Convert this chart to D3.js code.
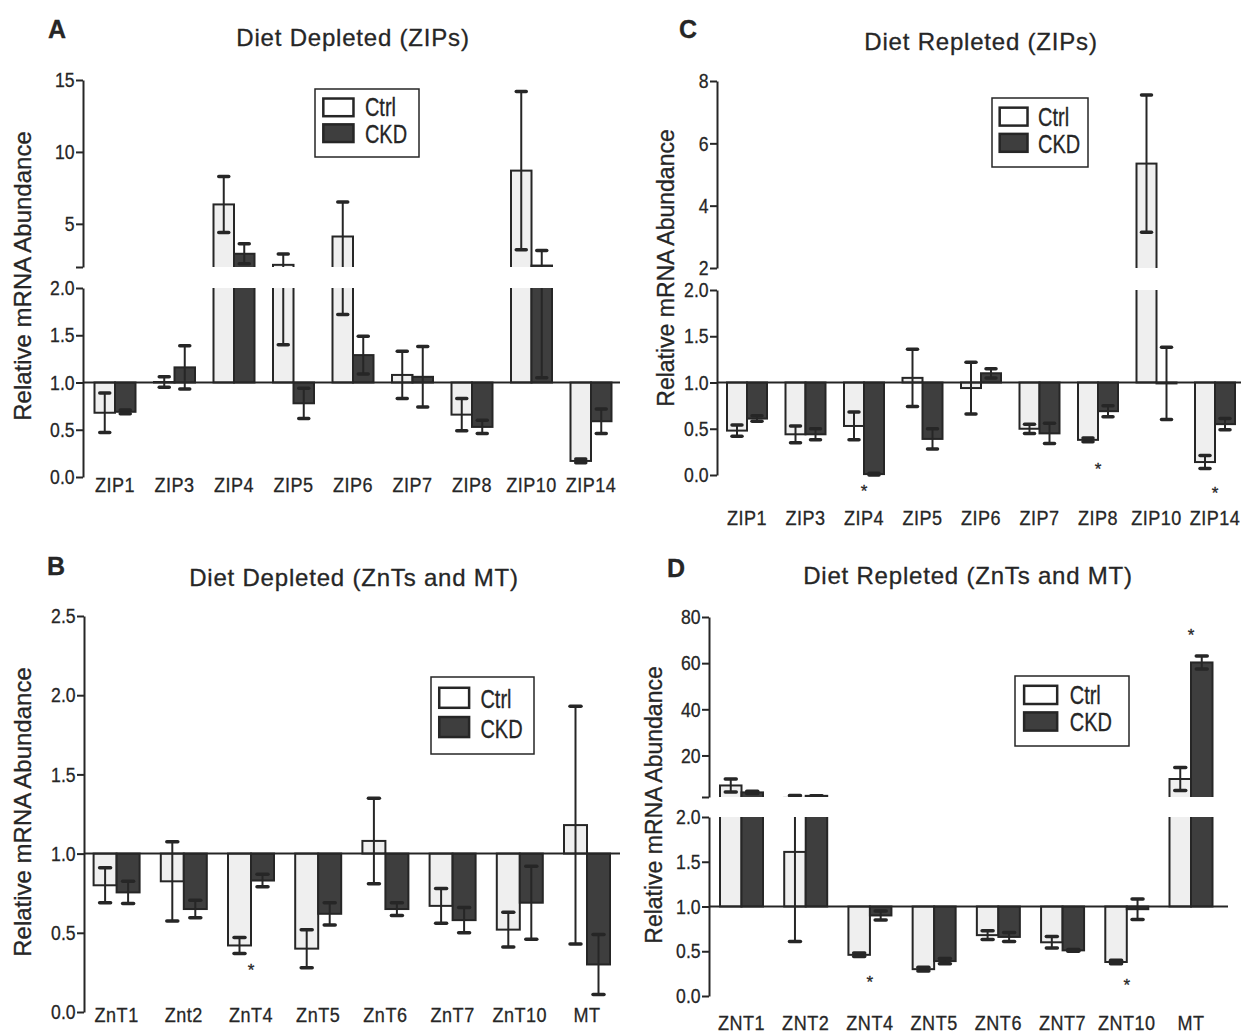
<!DOCTYPE html>
<html>
<head>
<meta charset="utf-8">
<script src="https://cdn.jsdelivr.net/npm/d3@7"></script>
<style>
body { margin: 0; background: #fff; }
svg text { font-family: "Liberation Sans", Arial, sans-serif; stroke: #262626; stroke-width: 0.3px; }
</style>
</head>
<body>
<div id="chart"></div>
<script>
// ---- data ----
const series = ["Ctrl", "CKD"];

// A : diet depleted, ZIPs
const zipCats = ["ZIP1", "ZIP3", "ZIP4", "ZIP5", "ZIP6", "ZIP7", "ZIP8", "ZIP10", "ZIP14"];
const aCtrl    = [0.68, 1.005, 6.35, 2.15, 4.12, 1.08, 0.66, 8.7, 0.17];
const aCtrlErr = [0.21, 0.055, 1.95, 0.75, 2.40, 0.25, 0.17, 5.5, 0.02];
const aCkd     = [0.69, 1.16, 2.92, 0.78, 1.29, 1.06, 0.53, 2.1, 0.59];
const aCkdErr  = [0.02, 0.23, 0.70, 0.16, 0.20, 0.32, 0.07, 1.05, 0.13];
const aStarCats = [];
const aStarVals = [];

// C : diet repleted, ZIPs
const cCtrl    = [0.48, 0.44, 0.53, 1.05, 0.94, 0.50, 0.38, 5.35, 0.14];
const cCtrlErr = [0.06, 0.09, 0.15, 0.31, 0.28, 0.05, 0.02, 2.2, 0.07];
const cCkd     = [0.61, 0.44, 0.01, 0.39, 1.10, 0.45, 0.69, 0.99, 0.55];
const cCkdErr  = [0.03, 0.06, 0.01, 0.11, 0.05, 0.11, 0.06, 0.39, 0.06];
const cStarCats = ["ZIP4", "ZIP8", "ZIP14"];
const cStarVals = [-0.15, 0.085, -0.17];

// B : diet depleted, ZnTs and MT
const bCats = ["ZnT1", "Znt2", "ZnT4", "ZnT5", "ZnT6", "ZnT7", "ZnT10", "MT"];
const bCtrl    = [0.80, 0.825, 0.42, 0.40, 1.08, 0.67, 0.52, 1.18];
const bCtrlErr = [0.11, 0.25, 0.05, 0.12, 0.27, 0.11, 0.11, 0.75];
const bCkd     = [0.755, 0.65, 0.83, 0.62, 0.65, 0.58, 0.69, 0.30];
const bCkdErr  = [0.07, 0.055, 0.04, 0.07, 0.04, 0.08, 0.23, 0.19];
const bStarCats = ["ZnT4"];
const bStarVals = [0.28];

// D : diet repleted, ZnTs and MT
const dCats = ["ZNT1", "ZNT2", "ZNT4", "ZNT5", "ZNT6", "ZNT7", "ZNT10", "MT"];
const dCtrl    = [7.0, 1.61, 0.46, 0.30, 0.68, 0.60, 0.38, 9.8];
const dCtrlErr = [2.8, 1.0, 0.02, 0.02, 0.05, 0.065, 0.02, 5.0];
const dCkd     = [4.0, 2.5, 0.90, 0.39, 0.66, 0.51, 0.97, 60.3];
const dCkdErr  = [0.5, 0.05, 0.05, 0.03, 0.05, 0.01, 0.115, 2.8];
const dStarCats = ["ZNT4", "ZNT10", "MT"];
const dStarVals = [0.18, 0.145, 73];

// tick labels
const lowerTicks = [0, 0.5, 1, 1.5, 2];
const aUpperTicks = [2, 5, 10, 15];
const cUpperTicks = [2, 4, 6, 8];
const bTicks = [0, 0.5, 1, 1.5, 2, 2.5];
const dUpperTicks = [2, 20, 40, 60, 80];

// ---- drawing ----
const W = 1241, H = 1034;
const ink = "#262626";
const color = d3.scaleOrdinal().domain(series).range(["#efefef", "#3e3e3e"]);

const svg = d3.select("#chart")
  .append("svg")
  .attr("width", W)
  .attr("height", H);
svg.append("rect").attr("width", W).attr("height", H).attr("fill", "#fff");
const defs = svg.append("defs");

const fmtLow = d3.format(".1f");

function drawPanel(p) {
  const g = svg.append("g");

  // group centres and the two bars of a group
  const x = d3.scalePoint().domain(p.cats).range(p.centers);
  const xSub = d3.scaleBand().domain(series).range([-p.bw, p.bw]);

  const rows = p.cats.flatMap((c, i) => [
    {cat: c, key: "Ctrl", v: p.ctrl[i], e: p.ctrlErr[i]},
    {cat: c, key: "CKD", v: p.ckd[i], e: p.ckdErr[i]}
  ]);

  const broken = p.segs.length > 1;
  p.segs.forEach((s, si) => {
    const y = d3.scaleLinear().domain(s.domain).range(s.range);
    s.y = y;

    // each piece of a broken axis only shows its own range
    const top = (si == 0 && broken) ? s.range[1] : s.range[1] - 30;
    const bottom = si == 0 ? s.range[0] + 40 : s.range[0];
    const clipId = "clip-" + p.id + "-" + si;
    defs.append("clipPath").attr("id", clipId)
      .append("rect")
      .attr("x", p.axisX).attr("y", top)
      .attr("width", p.xEnd - p.axisX).attr("height", bottom - top);

    const layer = g.append("g").attr("clip-path", `url(#${clipId})`);

    layer.selectAll("rect")
      .data(rows)
      .join("rect")
      .attr("x", d => x(d.cat) + xSub(d.key))
      .attr("y", d => Math.min(y(1), y(d.v)))
      .attr("width", xSub.bandwidth())
      .attr("height", d => Math.abs(y(1) - y(d.v)))
      .attr("fill", d => color(d.key))
      .attr("stroke", ink)
      .attr("stroke-width", 2);

    const eb = layer.selectAll("g.err")
      .data(rows)
      .join("g")
      .attr("class", "err")
      .attr("transform", d => `translate(${x(d.cat) + xSub(d.key) + xSub.bandwidth() / 2},0)`);
    eb.append("line")
      .attr("y1", d => y(d.v - d.e))
      .attr("y2", d => y(d.v + d.e))
      .attr("stroke", ink)
      .attr("stroke-width", 2);
    eb.selectAll("line.cap")
      .data(d => [d.v - d.e, d.v + d.e])
      .join("line")
      .attr("class", "cap")
      .attr("x1", -p.cap).attr("x2", p.cap)
      .attr("y1", v => y(v)).attr("y2", v => y(v))
      .attr("stroke", ink)
      .attr("stroke-width", 3.5)
      .attr("stroke-linecap", "round");

    // y axis piece
    const ax = g.append("g")
      .attr("transform", `translate(${p.axisX},0)`)
      .call(d3.axisLeft(y).tickValues(s.ticks).tickFormat(s.fmt)
        .tickSize(7).tickSizeOuter(0).tickPadding(3));
    ax.select(".domain").attr("stroke", ink).attr("stroke-width", 2);
    ax.selectAll(".tick line").attr("stroke", ink).attr("stroke-width", 2);
    ax.selectAll(".tick text")
      .attr("font-size", 21)
      .attr("fill", ink)
      .attr("transform", "scale(0.84,1)");
  });

  // reference line at 1.0
  g.append("line")
    .attr("x1", p.axisX).attr("x2", p.xEnd)
    .attr("y1", p.segs[0].y(1)).attr("y2", p.segs[0].y(1))
    .attr("stroke", ink)
    .attr("stroke-width", 2);

  // category labels
  g.selectAll("text.cat")
    .data(p.cats)
    .join("text")
    .attr("class", "cat")
    .attr("transform", c => `translate(${x(c)},${p.labelY}) scale(0.86,1)`)
    .attr("text-anchor", "middle")
    .attr("font-size", 21)
    .attr("letter-spacing", 0.6)
    .attr("fill", ink)
    .text(c => c);

  // significance stars
  g.selectAll("text.star")
    .data(p.starCats.map((c, i) => ({cat: c, v: p.starVals[i]})))
    .join("text")
    .attr("class", "star")
    .attr("x", d => x(d.cat))
    .attr("y", d => (broken && d.v > 2 ? p.segs[1].y : p.segs[0].y)(d.v) + 8)
    .attr("text-anchor", "middle")
    .attr("font-size", 17)
    .attr("fill", ink)
    .text("*");

  // legend
  const [lx, ly, lw, lh] = p.legend;
  const lg = g.append("g").attr("transform", `translate(${lx},${ly})`);
  lg.append("rect")
    .attr("width", lw).attr("height", lh)
    .attr("fill", "#fff")
    .attr("stroke", ink)
    .attr("stroke-width", 1.5);
  series.forEach((k, i) => {
    lg.append("rect")
      .attr("x", 0.08 * lw)
      .attr("y", lh * (i == 0 ? 0.14 : 0.52))
      .attr("width", 0.29 * lw)
      .attr("height", lh * 0.26)
      .attr("fill", k == "Ctrl" ? "#fff" : color(k))
      .attr("stroke", ink)
      .attr("stroke-width", 2.5);
    lg.append("text")
      .attr("transform", `translate(${0.48 * lw},${lh * (i == 0 ? 0.40 : 0.79)}) scale(0.8,1)`)
      .attr("font-size", 25)
      .attr("fill", ink)
      .text(k);
  });

  // titles
  g.append("text")
    .attr("x", p.title[1]).attr("y", p.title[2])
    .attr("text-anchor", "middle")
    .attr("font-size", 24)
    .attr("letter-spacing", 0.8)
    .attr("fill", ink)
    .text(p.title[0]);
  g.append("text")
    .attr("x", p.letter[1]).attr("y", p.letter[2])
    .attr("font-size", 25)
    .attr("font-weight", "bold")
    .attr("fill", ink)
    .text(p.letter[0]);
  g.append("text")
    .attr("transform", `translate(${p.ylab[0]},${p.ylab[1]}) rotate(-90)`)
    .attr("text-anchor", "middle")
    .attr("dominant-baseline", "central")
    .attr("font-size", p.ylab[2])
    .attr("fill", ink)
    .text("Relative mRNA Abundance");
}

drawPanel({
  id: "A", cats: zipCats, ctrl: aCtrl, ctrlErr: aCtrlErr, ckd: aCkd, ckdErr: aCkdErr,
  starCats: aStarCats, starVals: aStarVals,
  centers: [115, 591], bw: 20.5, cap: 5, axisX: 83, xEnd: 620, labelY: 492,
  segs: [
    {domain: [0, 2], range: [477, 288], ticks: lowerTicks, fmt: fmtLow},
    {domain: [2, 15], range: [267, 80], ticks: aUpperTicks, fmt: d => d == 2 ? "" : d}
  ],
  legend: [315, 89, 104, 68],
  title: ["Diet Depleted (ZIPs)", 353, 46],
  letter: ["A", 48, 38],
  ylab: [22, 276, 24]
});

drawPanel({
  id: "C", cats: zipCats, ctrl: cCtrl, ctrlErr: cCtrlErr, ckd: cCkd, ckdErr: cCkdErr,
  starCats: cStarCats, starVals: cStarVals,
  centers: [747, 1215], bw: 20, cap: 5, axisX: 717, xEnd: 1241, labelY: 525,
  segs: [
    {domain: [0, 2], range: [475, 290], ticks: lowerTicks, fmt: fmtLow},
    {domain: [2, 8], range: [268, 81], ticks: cUpperTicks, fmt: d => d}
  ],
  legend: [992, 98, 96, 69],
  title: ["Diet Repleted (ZIPs)", 981, 50],
  letter: ["C", 679, 38],
  ylab: [666, 268, 23]
});

drawPanel({
  id: "B", cats: bCats, ctrl: bCtrl, ctrlErr: bCtrlErr, ckd: bCkd, ckdErr: bCkdErr,
  starCats: bStarCats, starVals: bStarVals,
  centers: [116.6, 587], bw: 23, cap: 5.5, axisX: 84, xEnd: 620, labelY: 1022,
  segs: [
    {domain: [0, 2.5], range: [1012, 616], ticks: bTicks, fmt: fmtLow}
  ],
  legend: [431, 677, 103, 77],
  title: ["Diet Depleted (ZnTs and MT)", 354, 586],
  letter: ["B", 47, 575],
  ylab: [22, 812, 24]
});

drawPanel({
  id: "D", cats: dCats, ctrl: dCtrl, ctrlErr: dCtrlErr, ckd: dCkd, ckdErr: dCkdErr,
  starCats: dStarCats, starVals: dStarVals,
  centers: [741.5, 1191], bw: 21.5, cap: 5.5, axisX: 709, xEnd: 1228, labelY: 1030,
  segs: [
    {domain: [0, 2], range: [996, 817], ticks: lowerTicks, fmt: fmtLow},
    {domain: [2, 80], range: [797, 617], ticks: dUpperTicks, fmt: d => d == 2 ? "" : d}
  ],
  legend: [1015, 676, 114, 70],
  title: ["Diet Repleted (ZnTs and MT)", 968, 584],
  letter: ["D", 667, 577],
  ylab: [654, 805, 23]
});
</script>
</body>
</html>
